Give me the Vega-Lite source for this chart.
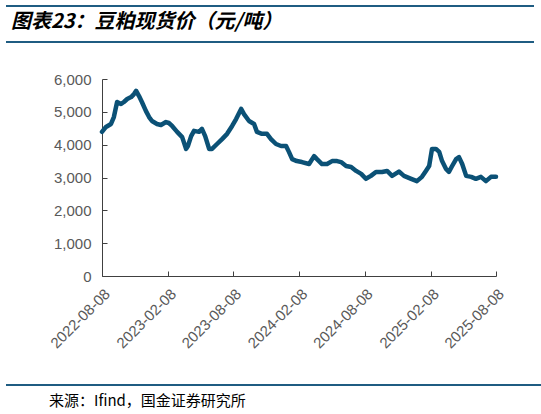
{
  "$schema": "https://vega.github.io/schema/vega-lite/v6.json",
  "padding": {"left": 5, "top": 5, "right": 0, "bottom": 0},
  "background": "white",
  "spacing": 37,
  "bounds": "flush",
  "config": {
    "view": {"stroke": null},
    "axis": {
      "grid": false,
      "labelFont": "Liberation Sans",
      "labelFontSize": 15,
      "labelColor": "#595959",
      "domainColor": "#404040",
      "tickColor": "#404040",
      "tickSize": -5,
      "title": null
    }
  },
  "vconcat": [
    {
      "width": 394,
      "height": 36,
      "data": {"values": [{"title": "图表23：豆粕现货价（元/吨）"}]},
      "layer": [
        {
          "mark": {"type": "rule", "color": "#1f5c82", "strokeWidth": 2},
          "encoding": {
            "x": {"datum": 0, "scale": {"domain": [0, 1], "range": [-96, 432]}, "axis": null},
            "x2": {"datum": 1},
            "y": {"datum": 1, "scale": {"domain": [0, 1], "nice": false}, "axis": null}
          }
        },
        {
          "mark": {"type": "rule", "color": "#1f5c82", "strokeWidth": 2},
          "encoding": {
            "x": {"datum": 0},
            "x2": {"datum": 1},
            "y": {"datum": 0}
          }
        },
        {
          "mark": {
            "type": "text",
            "align": "left",
            "baseline": "middle",
            "dx": 5,
            "font": "Noto Sans CJK SC",
            "fontSize": 20,
            "fontWeight": "bold",
            "fontStyle": "italic",
            "color": "black"
          },
          "encoding": {
            "x": {"datum": 0},
            "y": {"datum": 0.55},
            "text": {"field": "title"}
          }
        }
      ]
    },
    {
      "width": 394,
      "height": 197,
      "data": {
        "values": [
          {"date": "2022-08-08", "price": 4390},
          {"date": "2022-08-19", "price": 4540},
          {"date": "2022-09-02", "price": 4630},
          {"date": "2022-09-10", "price": 4840},
          {"date": "2022-09-19", "price": 5300},
          {"date": "2022-09-30", "price": 5240},
          {"date": "2022-10-08", "price": 5300},
          {"date": "2022-10-17", "price": 5390},
          {"date": "2022-10-28", "price": 5450},
          {"date": "2022-11-05", "price": 5540},
          {"date": "2022-11-11", "price": 5640},
          {"date": "2022-11-19", "price": 5480},
          {"date": "2022-11-27", "price": 5300},
          {"date": "2022-12-08", "price": 5030},
          {"date": "2022-12-17", "price": 4840},
          {"date": "2022-12-25", "price": 4720},
          {"date": "2023-01-08", "price": 4630},
          {"date": "2023-01-19", "price": 4600},
          {"date": "2023-02-02", "price": 4690},
          {"date": "2023-02-10", "price": 4660},
          {"date": "2023-02-19", "price": 4570},
          {"date": "2023-03-05", "price": 4390},
          {"date": "2023-03-19", "price": 4230},
          {"date": "2023-03-30", "price": 3870},
          {"date": "2023-04-04", "price": 3960},
          {"date": "2023-04-13", "price": 4260},
          {"date": "2023-04-21", "price": 4420},
          {"date": "2023-05-05", "price": 4390},
          {"date": "2023-05-13", "price": 4480},
          {"date": "2023-05-22", "price": 4260},
          {"date": "2023-06-02", "price": 3870},
          {"date": "2023-06-10", "price": 3870},
          {"date": "2023-06-24", "price": 4020},
          {"date": "2023-07-08", "price": 4170},
          {"date": "2023-07-22", "price": 4330},
          {"date": "2023-08-05", "price": 4570},
          {"date": "2023-08-16", "price": 4780},
          {"date": "2023-08-30", "price": 5090},
          {"date": "2023-09-07", "price": 4930},
          {"date": "2023-09-21", "price": 4720},
          {"date": "2023-10-05", "price": 4630},
          {"date": "2023-10-13", "price": 4390},
          {"date": "2023-10-27", "price": 4330},
          {"date": "2023-11-10", "price": 4330},
          {"date": "2023-11-21", "price": 4170},
          {"date": "2023-12-05", "price": 4020},
          {"date": "2023-12-19", "price": 3960},
          {"date": "2024-01-02", "price": 3960},
          {"date": "2024-01-10", "price": 3780},
          {"date": "2024-01-19", "price": 3560},
          {"date": "2024-02-01", "price": 3500},
          {"date": "2024-02-15", "price": 3470},
          {"date": "2024-03-06", "price": 3410},
          {"date": "2024-03-20", "price": 3650},
          {"date": "2024-03-28", "price": 3560},
          {"date": "2024-04-11", "price": 3410},
          {"date": "2024-04-25", "price": 3410},
          {"date": "2024-05-09", "price": 3500},
          {"date": "2024-05-23", "price": 3500},
          {"date": "2024-06-03", "price": 3470},
          {"date": "2024-06-17", "price": 3350},
          {"date": "2024-07-01", "price": 3320},
          {"date": "2024-07-15", "price": 3200},
          {"date": "2024-07-29", "price": 3110},
          {"date": "2024-08-11", "price": 2960},
          {"date": "2024-08-25", "price": 3050},
          {"date": "2024-09-08", "price": 3170},
          {"date": "2024-09-25", "price": 3170},
          {"date": "2024-10-09", "price": 3200},
          {"date": "2024-10-23", "price": 3050},
          {"date": "2024-11-11", "price": 3180},
          {"date": "2024-11-25", "price": 3050},
          {"date": "2024-12-15", "price": 2960},
          {"date": "2024-12-31", "price": 2890},
          {"date": "2025-01-14", "price": 3020},
          {"date": "2025-01-25", "price": 3200},
          {"date": "2025-02-03", "price": 3350},
          {"date": "2025-02-11", "price": 3870},
          {"date": "2025-02-22", "price": 3870},
          {"date": "2025-03-03", "price": 3780},
          {"date": "2025-03-11", "price": 3500},
          {"date": "2025-03-22", "price": 3260},
          {"date": "2025-03-30", "price": 3170},
          {"date": "2025-04-08", "price": 3350},
          {"date": "2025-04-19", "price": 3560},
          {"date": "2025-04-27", "price": 3620},
          {"date": "2025-05-06", "price": 3410},
          {"date": "2025-05-17", "price": 3050},
          {"date": "2025-05-31", "price": 3020},
          {"date": "2025-06-13", "price": 2960},
          {"date": "2025-06-27", "price": 3020},
          {"date": "2025-07-11", "price": 2890},
          {"date": "2025-07-25", "price": 3020},
          {"date": "2025-08-08", "price": 3020}
        ]
      },
      "mark": {"type": "line", "color": "#0b5176", "strokeWidth": 4.5, "strokeJoin": "round", "strokeCap": "round"},
      "encoding": {
        "x": {
          "field": "date",
          "type": "temporal",
          "scale": {
            "type": "utc",
            "domain": [
              {"year": 2022, "month": 8, "date": 8, "utc": true},
              {"year": 2025, "month": 8, "date": 8, "utc": true}
            ],
            "nice": false
          },
          "axis": {
            "values": [
              {"year": 2022, "month": 8, "date": 8, "utc": true},
              {"year": 2023, "month": 2, "date": 8, "utc": true},
              {"year": 2023, "month": 8, "date": 8, "utc": true},
              {"year": 2024, "month": 2, "date": 8, "utc": true},
              {"year": 2024, "month": 8, "date": 8, "utc": true},
              {"year": 2025, "month": 2, "date": 8, "utc": true},
              {"year": 2025, "month": 8, "date": 8, "utc": true}
            ],
            "format": "%Y-%m-%d",
            "labelAngle": -45,
            "labelPadding": 15
          }
        },
        "y": {
          "field": "price",
          "type": "quantitative",
          "scale": {"domain": [0, 6000], "nice": false},
          "axis": {
            "values": [0, 1000, 2000, 3000, 4000, 5000, 6000],
            "format": ",.0f",
            "labelPadding": 16
          }
        }
      }
    },
    {
      "width": 394,
      "height": 98,
      "data": {"values": [{"source": "来源：Ifind，国金证券研究所"}]},
      "layer": [
        {
          "mark": {"type": "rule", "color": "#1f5c82", "strokeWidth": 2},
          "encoding": {
            "x": {"datum": 0, "scale": {"domain": [0, 1], "range": [-96, 440]}, "axis": null},
            "x2": {"datum": 1},
            "y": {"datum": 26, "scale": {"domain": [0, 98], "nice": false}, "axis": null}
          }
        },
        {
          "mark": {
            "type": "text",
            "align": "left",
            "baseline": "middle",
            "dx": 43,
            "font": "Noto Sans CJK SC",
            "fontSize": 15,
            "color": "black"
          },
          "encoding": {
            "x": {"datum": 0},
            "y": {"datum": 10},
            "text": {"field": "source"}
          }
        }
      ]
    }
  ]
}
